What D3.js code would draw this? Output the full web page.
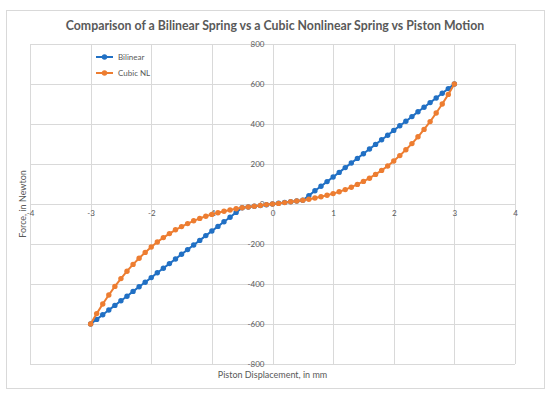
<!DOCTYPE html>
<html>
<head>
<meta charset="utf-8">
<script src="https://cdn.jsdelivr.net/npm/d3@7"></script>
<style>
  body { margin: 0; background: #fff; }
  text { font-family: Lato, "Open Sans", sans-serif; fill: #595959; }
</style>
</head>
<body>
<div id="chart"></div>
<script>
// data
var displacement = [-3, -2.9, -2.8, -2.7, -2.6, -2.5, -2.4, -2.3, -2.2, -2.1, -2, -1.9, -1.8, -1.7, -1.6, -1.5, -1.4, -1.3, -1.2, -1.1, -1, -0.9, -0.8, -0.7, -0.6, -0.5, -0.4, -0.3, -0.2, -0.1, 0, 0.1, 0.2, 0.3, 0.4, 0.5, 0.6, 0.7, 0.8, 0.9, 1, 1.1, 1.2, 1.3, 1.4, 1.5, 1.6, 1.7, 1.8, 1.9, 2, 2.1, 2.2, 2.3, 2.4, 2.5, 2.6, 2.7, 2.8, 2.9, 3];
var bilinear = [-600, -577, -554, -530, -507, -484, -461, -437, -414, -391, -368, -344, -321, -298, -275, -251, -228, -205, -182, -158, -135, -112, -89, -66, -42, -19, -15, -11, -8, -4, 0, 4, 8, 11, 15, 19, 42, 66, 89, 112, 135, 158, 182, 205, 228, 251, 275, 298, 321, 344, 368, 391, 414, 437, 461, 484, 507, 530, 554, 577, 600];
var cubicNL = [-600, -548, -500, -455, -412, -373, -336, -302, -271, -242, -215, -190, -168, -148, -129, -113, -98, -84, -72, -61, -52, -44, -36, -30, -24, -19, -15, -11, -7, -3, 0, 3, 7, 11, 15, 19, 24, 30, 36, 44, 52, 61, 72, 84, 98, 113, 129, 148, 168, 190, 215, 242, 271, 302, 336, 373, 412, 455, 500, 548, 600];

var seriesNames = ["Bilinear", "Cubic NL"];
var seriesColors = ["#2170C4", "#ED7D31"];
var xTicks = [-4, -3, -2, -1, 0, 1, 2, 3, 4];
var yTicks = [-800, -600, -400, -200, 0, 200, 400, 600, 800];

var w = 550, h = 398;

var svg = d3.select("#chart")
      .append("svg")
      .attr("width", w)
      .attr("height", h);

// chart border
svg.append("rect")
   .attr("x", 6.5).attr("y", 10.5)
   .attr("width", 538).attr("height", 378)
   .attr("fill", "#fff")
   .attr("stroke", "#D9D9D9");

var x = d3.scaleLinear().domain([-4, 4]).range([30, 515]);
var y = d3.scaleLinear().domain([-800, 800]).range([364, 44]);

// gridlines
svg.append("g").selectAll("line")
   .data(xTicks)
   .enter()
   .append("line")
   .attr("x1", function(d) { return Math.round(x(d)) + 0.5; })
   .attr("x2", function(d) { return Math.round(x(d)) + 0.5; })
   .attr("y1", y(800)).attr("y2", y(-800))
   .attr("stroke", "#D9D9D9");

svg.append("g").selectAll("line")
   .data(yTicks)
   .enter()
   .append("line")
   .attr("y1", function(d) { return Math.round(y(d)) + 0.5; })
   .attr("y2", function(d) { return Math.round(y(d)) + 0.5; })
   .attr("x1", x(-4)).attr("x2", x(4))
   .attr("stroke", "#D9D9D9");

// axes crossing at zero
var xAxis = svg.append("g")
   .attr("transform", "translate(0," + y(0) + ")")
   .call(d3.axisBottom(x).tickValues(xTicks).tickSize(0).tickPadding(6)
         .tickFormat(function(d) { return String(d); }));
xAxis.select(".domain").remove();
xAxis.selectAll("text").attr("font-size", "8px").attr("font-family", null).attr("fill", "#595959");

var yAxis = svg.append("g")
   .attr("transform", "translate(" + x(0) + ",0)")
   .call(d3.axisLeft(y).tickValues(yTicks).tickSize(0).tickPadding(8)
         .tickFormat(function(d) { return String(d); }));
yAxis.select(".domain").remove();
yAxis.selectAll("text").attr("font-size", "8px").attr("font-family", null).attr("fill", "#595959");

// series
var series = [bilinear, cubicNL];
series.forEach(function(vals, s) {
  var pts = displacement.map(function(d, i) { return [d, vals[i]]; });
  var line = d3.line()
        .x(function(d) { return x(d[0]); })
        .y(function(d) { return y(d[1]); });
  svg.append("path")
     .datum(pts)
     .attr("d", line)
     .attr("fill", "none")
     .attr("stroke", seriesColors[s])
     .attr("stroke-width", 2);
  svg.append("g").selectAll("circle")
     .data(pts)
     .enter()
     .append("circle")
     .attr("cx", function(d) { return x(d[0]); })
     .attr("cy", function(d) { return y(d[1]); })
     .attr("r", 2.7)
     .attr("fill", seriesColors[s]);
});

// title
svg.append("text")
   .text("Comparison of a Bilinear Spring vs a Cubic Nonlinear Spring vs Piston Motion")
   .attr("x", 275).attr("y", 30)
   .attr("text-anchor", "middle")
   .attr("font-size", "12.3px")
   .attr("font-weight", "bold");

// axis titles
svg.append("text")
   .text("Piston Displacement, in mm")
   .attr("x", x(0)).attr("y", 378)
   .attr("text-anchor", "middle")
   .attr("font-size", "9px");

svg.append("text")
   .text("Force, in Newton")
   .attr("transform", "translate(26," + y(0) + ") rotate(-90)")
   .attr("text-anchor", "middle")
   .attr("font-size", "9px");

// legend
var legend = svg.append("g").selectAll("g")
   .data(seriesNames)
   .enter()
   .append("g")
   .attr("transform", function(d, i) { return "translate(96," + (57 + i * 16) + ")"; });
legend.append("line")
   .attr("x1", 0).attr("x2", 17)
   .attr("stroke", function(d, i) { return seriesColors[i]; })
   .attr("stroke-width", 2);
legend.append("circle")
   .attr("cx", 8.5).attr("r", 2.7)
   .attr("fill", function(d, i) { return seriesColors[i]; });
legend.append("text")
   .text(function(d) { return d; })
   .attr("x", 22).attr("y", 3)
   .attr("font-size", "8px");
</script>
</body>
</html>
